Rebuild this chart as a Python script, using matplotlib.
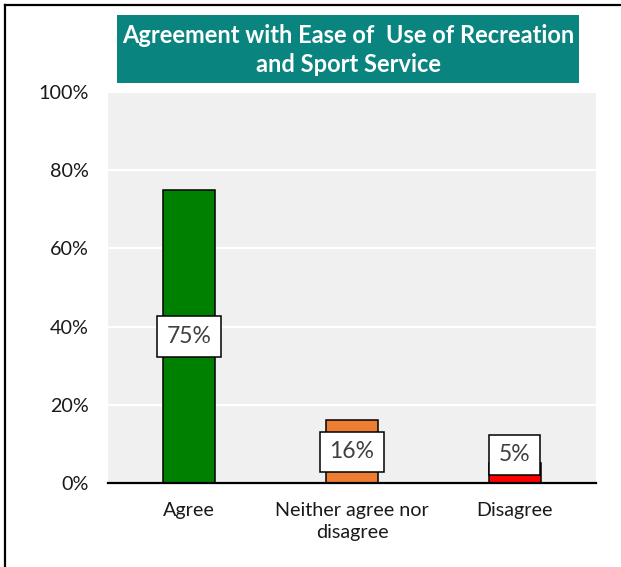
import matplotlib
matplotlib.use("Agg")
import matplotlib.pyplot as plt
from matplotlib.lines import Line2D
from matplotlib.patches import Rectangle
from matplotlib.ticker import FuncFormatter

plt.rcParams['font.family'] = ['Lato', 'DejaVu Sans']

categories = ["Agree", "Neither agree nor\ndisagree", "Disagree"]
values = [75, 16, 5]
bar_colors = ["#008000", "#ED7D31", "#FF0000"]
y_ticks = [0, 20, 40, 60, 80, 100]
title_text = "Agreement with Ease of  Use of Recreation\nand Sport Service"

fig = plt.figure(figsize=(6.21, 5.67), dpi=100)
ax = fig.add_axes([108 / 621, 1 - 483 / 567, 488 / 621, 391 / 567])
ax.set_facecolor("#F0F0F0")

x = range(len(categories))
ax.bar(x, values, width=0.32, color=bar_colors, edgecolor="black",
       linewidth=1.1, zorder=3)

ax.set_xlim(-0.5, len(categories) - 0.5)
ax.set_ylim(0, 100)
ax.set_yticks(y_ticks)
ax.yaxis.set_major_formatter(FuncFormatter(lambda v, p: f"{v:.0f}%"))
ax.grid(axis="y", color="white", linewidth=1.6, zorder=1)
ax.set_xticks(list(x))
ax.set_xticklabels(categories, fontsize=14.2, color="#1a1a1a",
                   linespacing=1.35)
ax.tick_params(axis="both", length=0, labelsize=14.2, labelcolor="#1a1a1a")
ax.tick_params(axis="y", pad=14)
ax.tick_params(axis="x", pad=14)

for side in ("top", "right", "left"):
    ax.spines[side].set_visible(False)
ax.spines["bottom"].set_linewidth(1.6)
ax.spines["bottom"].set_color("black")
ax.spines["bottom"].set_zorder(4)

# value labels in white boxes
for xi, v in zip(x, values):
    ypos = max(v / 2, 7.2)
    ax.text(xi, ypos, f"{v}%", ha="center", va="center", fontsize=16.5,
            color="#404040", zorder=5,
            bbox=dict(boxstyle="square,pad=0.42", facecolor="white",
                      edgecolor="black", linewidth=1.1))

# title banner
fig.patches.append(Rectangle((117 / 621, 1 - 83 / 567), 462 / 621, 68 / 567,
                             transform=fig.transFigure, facecolor="#0A847F",
                             edgecolor="none", zorder=1))
fig.text(348 / 621, 1 - 50 / 567, title_text, ha="center", va="center",
         fontsize=17, fontweight="bold", color="white", linespacing=1.33,
         zorder=2)

# frame lines on top and left
fig.lines.append(Line2D([4.5 / 621, 1], [1 - 4.5 / 567, 1 - 4.5 / 567],
                        transform=fig.transFigure, color="black", linewidth=1.6))
fig.lines.append(Line2D([4.5 / 621, 4.5 / 621], [0, 1 - 4.5 / 567],
                        transform=fig.transFigure, color="black", linewidth=1.6))

fig.savefig("out.png", dpi=100)
